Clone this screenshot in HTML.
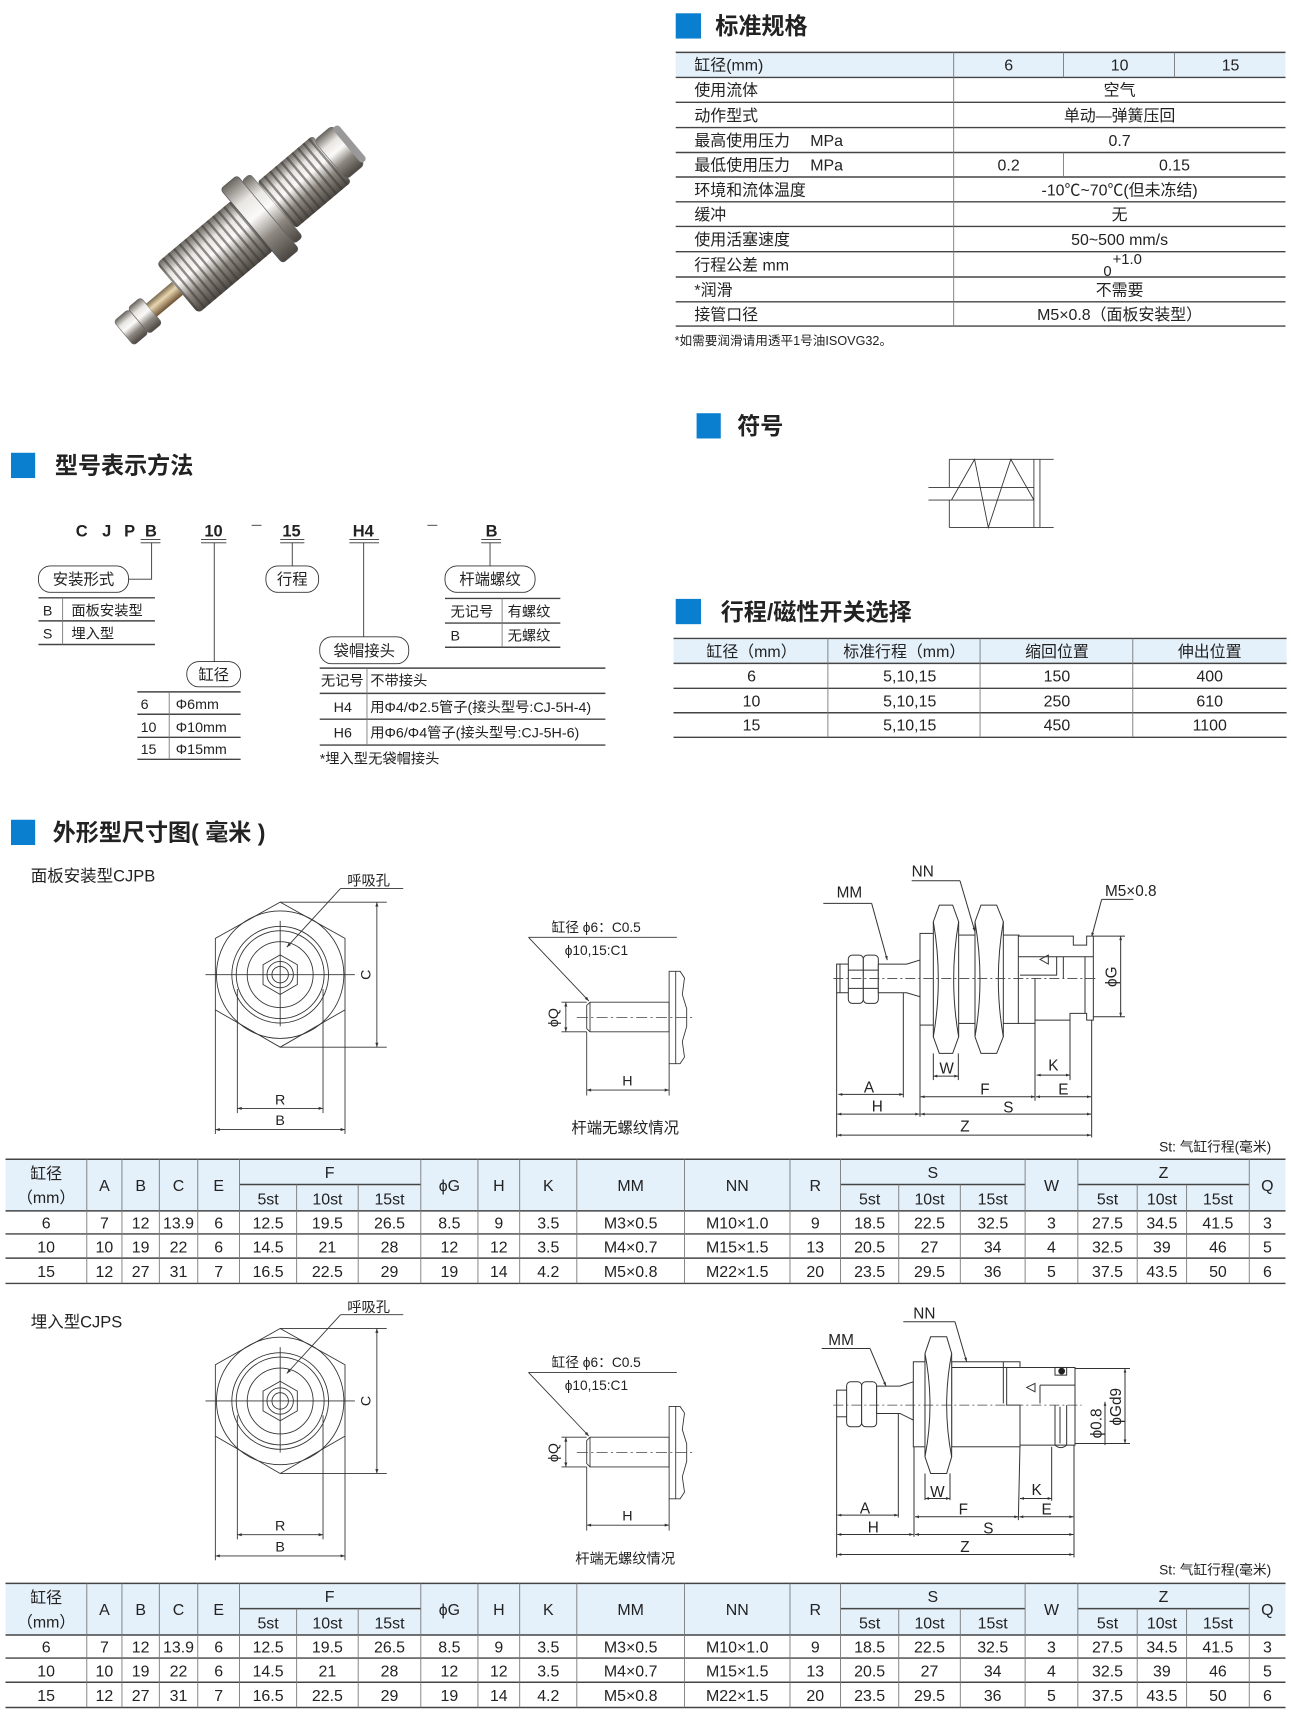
<!DOCTYPE html>
<html><head><meta charset="utf-8"><style>
html,body{margin:0;padding:0;background:#fff;}
svg{display:block}
text{font-family:"Liberation Sans","Noto Sans CJK SC",sans-serif;fill:#222}
.h{font-size:21px;font-weight:bold}
.t{font-size:14.5px}
.s{font-size:13px}
.d{font-size:14.5px;text-anchor:middle}
.m{text-anchor:middle}
.hl{stroke:#444;stroke-width:1.3}
.vl{stroke:#777;stroke-width:0.8}
.ln{stroke:#333;stroke-width:0.8;fill:none}
.zl{stroke:#333;stroke-width:3;fill:none}
.zf{stroke:#333;stroke-width:3;fill:#fff}
.zt{font-size:46px}
.cl{stroke:#444;stroke-width:0.7;stroke-dasharray:10 3 2 3;fill:none}
.zcl{stroke:#444;stroke-width:2.5;stroke-dasharray:30 9 6 9;fill:none}
</style></head><body>
<svg width="1291" height="1723" viewBox="0 0 1175 1568" xmlns="http://www.w3.org/2000/svg">
<defs>
<marker id="a" viewBox="0 0 10 10" refX="10" refY="5" markerWidth="7" markerHeight="5" orient="auto-start-reverse" markerUnits="strokeWidth"><path d="M0,1.5 L10,5 L0,8.5 z" fill="#333"/></marker>
<marker id="b" viewBox="0 0 10 10" refX="10" refY="5" markerWidth="6" markerHeight="4" orient="auto-start-reverse" markerUnits="strokeWidth"><path d="M0,1.5 L10,5 L0,8.5 z" fill="#333"/></marker>
<linearGradient id="mg" x1="0" y1="0" x2="0" y2="1">
<stop offset="0" stop-color="#6a655f"/><stop offset="0.25" stop-color="#e8e6e2"/><stop offset="0.45" stop-color="#fbfaf8"/><stop offset="0.7" stop-color="#8d8780"/><stop offset="1" stop-color="#4a4540"/></linearGradient>
<linearGradient id="bg" x1="0" y1="0" x2="0" y2="1">
<stop offset="0" stop-color="#7a6a50"/><stop offset="0.4" stop-color="#e9d6b0"/><stop offset="1" stop-color="#6a5030"/></linearGradient>
<pattern id="th" width="6" height="10" patternUnits="userSpaceOnUse"><rect width="6" height="10" fill="none"/><rect x="0" width="2" height="10" fill="#3a3632" opacity="0.55"/></pattern>
</defs>

<!-- PHOTO -->
<g transform="translate(212,220) rotate(-40) scale(1.1)">
<rect x="-118" y="-13" width="16" height="26" rx="3" fill="url(#mg)" stroke="#666" stroke-width="0.5"/>
<rect x="-102" y="-14" width="14" height="28" rx="3" fill="url(#mg)" stroke="#666" stroke-width="0.5"/>
<rect x="-88" y="-7" width="30" height="14" fill="url(#bg)"/>
<rect x="-60" y="-27" width="82" height="54" rx="4" fill="url(#mg)"/>
<rect x="-60" y="-27" width="82" height="54" rx="4" fill="url(#th)"/>
<rect x="20" y="-40" width="18" height="80" rx="3" fill="url(#mg)" stroke="#555" stroke-width="0.6"/>
<rect x="38" y="-34" width="9" height="68" rx="3" fill="url(#mg)" stroke="#666" stroke-width="0.5"/>
<rect x="47" y="-25" width="60" height="50" rx="3" fill="url(#mg)"/>
<rect x="47" y="-25" width="60" height="50" rx="3" fill="url(#th)"/>
<rect x="105" y="-21" width="20" height="42" rx="4" fill="url(#mg)" stroke="#666" stroke-width="0.5"/>
<rect x="123" y="-19" width="6" height="38" rx="3" fill="#999"/>
</g>

<!-- 标准规格 -->
<rect x="615" y="12" width="23" height="23" fill="#0a7fd0"/>
<text x="651" y="31" class="h">标准规格</text>
<rect x="615" y="48" width="555" height="22" fill="#e4f0fa"/>
<g>
<line x1="615" y1="47.6" x2="1170" y2="47.6" class="hl"/>
<line x1="615" y1="70.4" x2="1170" y2="70.4" class="hl"/>
<line x1="615" y1="93" x2="1170" y2="93" class="hl"/>
<line x1="615" y1="116" x2="1170" y2="116" class="hl"/>
<line x1="615" y1="138.7" x2="1170" y2="138.7" class="hl"/>
<line x1="615" y1="161" x2="1170" y2="161" class="hl"/>
<line x1="615" y1="183.6" x2="1170" y2="183.6" class="hl"/>
<line x1="615" y1="206" x2="1170" y2="206" class="hl"/>
<line x1="615" y1="229" x2="1170" y2="229" class="hl"/>
<line x1="615" y1="252" x2="1170" y2="252" class="hl"/>
<line x1="615" y1="274.6" x2="1170" y2="274.6" class="hl"/>
<line x1="615" y1="296.7" x2="1170" y2="296.7" class="hl"/>
<line x1="868" y1="47.6" x2="868" y2="296.7" class="vl"/>
<line x1="968" y1="47.6" x2="968" y2="70.4" class="vl"/>
<line x1="1069" y1="47.6" x2="1069" y2="70.4" class="vl"/>
<line x1="968" y1="138.7" x2="968" y2="161" class="vl"/>
</g>
<g class="t">
<text x="632" y="64">缸径(mm)</text>
<text x="632" y="87">使用流体</text>
<text x="632" y="110">动作型式</text>
<text x="632" y="133">最高使用压力　 MPa</text>
<text x="632" y="155">最低使用压力　 MPa</text>
<text x="632" y="178">环境和流体温度</text>
<text x="632" y="200">缓冲</text>
<text x="632" y="223">使用活塞速度</text>
<text x="632" y="246">行程公差 mm</text>
<text x="632" y="269">*润滑</text>
<text x="632" y="291">接管口径</text>
</g>
<g class="t" text-anchor="middle">
<text x="918" y="64">6</text><text x="1019" y="64">10</text><text x="1120" y="64">15</text>
<text x="1019" y="87">空气</text>
<text x="1019" y="110">单动—弹簧压回</text>
<text x="1019" y="133">0.7</text>
<text x="918" y="155">0.2</text><text x="1069" y="155">0.15</text>
<text x="1019" y="178">-10℃~70℃(但未冻结)</text>
<text x="1019" y="200">无</text>
<text x="1019" y="223">50~500 mm/s</text>
<text x="1026" y="240" style="font-size:13.5px">+1.0</text>
<text x="1008" y="251" style="font-size:13.5px">0</text>
<text x="1019" y="269">不需要</text>
<text x="1019" y="291">M5×0.8（面板安装型）</text>
</g>
<text x="614" y="314" style="font-size:11.5px">*如需要润滑请用透平1号油ISOVG32。</text>

<!-- 符号 -->
<rect x="634" y="376" width="22" height="23" fill="#0a7fd0"/>
<text x="671" y="395" class="h">符号</text>
<g class="ln" stroke-width="1">
<line x1="864" y1="418" x2="959" y2="418"/>
<line x1="864" y1="480" x2="959" y2="480"/>
<line x1="864" y1="418" x2="864" y2="443.5"/>
<line x1="864" y1="455" x2="864" y2="480"/>
<line x1="845" y1="443.5" x2="941" y2="443.5"/>
<line x1="845" y1="455" x2="941" y2="455"/>
<line x1="941" y1="418" x2="941" y2="480"/>
<line x1="946.5" y1="418" x2="946.5" y2="480"/>
<polyline points="866,455 887,418 899.5,480 920,418 941,455"/>
</g>

<!-- 行程/磁性开关选择 -->
<rect x="615" y="545" width="23" height="23" fill="#0a7fd0"/>
<text x="656" y="564" class="h">行程/磁性开关选择</text>
<rect x="613" y="581" width="558" height="23" fill="#e4f0fa"/>
<line x1="613" y1="581" x2="1171" y2="581" class="hl"/>
<line x1="613" y1="603.7" x2="1171" y2="603.7" class="hl"/>
<line x1="613" y1="626.4" x2="1171" y2="626.4" class="hl"/>
<line x1="613" y1="648.6" x2="1171" y2="648.6" class="hl"/>
<line x1="613" y1="671" x2="1171" y2="671" class="hl"/>
<line x1="753.5" y1="581" x2="753.5" y2="671" class="vl"/>
<line x1="892" y1="581" x2="892" y2="671" class="vl"/>
<line x1="1031" y1="581" x2="1031" y2="671" class="vl"/>
<g class="t" text-anchor="middle">
<text x="684" y="598">缸径（mm）</text><text x="823" y="598">标准行程（mm）</text><text x="962" y="598">缩回位置</text><text x="1101" y="598">伸出位置</text>
<text x="684" y="620">6</text><text x="828" y="620">5,10,15</text><text x="962" y="620">150</text><text x="1101" y="620">400</text>
<text x="684" y="643">10</text><text x="828" y="643">5,10,15</text><text x="962" y="643">250</text><text x="1101" y="643">610</text>
<text x="684" y="665">15</text><text x="828" y="665">5,10,15</text><text x="962" y="665">450</text><text x="1101" y="665">1100</text>
</g>

<!-- 型号表示方法 -->
<rect x="10" y="412" width="22" height="23" fill="#0a7fd0"/>
<text x="50" y="431" class="h">型号表示方法</text>
<g style="font-size:15px;font-weight:bold">
<text x="69" y="488">C</text><text x="93" y="488">J</text><text x="113" y="488">P</text><text x="132" y="488">B</text>
<text x="186" y="488">10</text><text x="257" y="488">15</text><text x="321" y="488">H4</text><text x="442" y="488">B</text>
</g>
<g class="ln">
<line x1="229" y1="478" x2="238" y2="478"/><line x1="389" y1="478" x2="398" y2="478"/>
<line x1="128" y1="491" x2="146" y2="491"/><line x1="128" y1="494" x2="146" y2="494"/>
<line x1="183" y1="491" x2="206" y2="491"/><line x1="183" y1="494" x2="206" y2="494"/>
<line x1="255" y1="491" x2="277" y2="491"/><line x1="255" y1="494" x2="277" y2="494"/>
<line x1="318" y1="491" x2="345" y2="491"/><line x1="318" y1="494" x2="345" y2="494"/>
<line x1="438" y1="491" x2="456" y2="491"/><line x1="438" y1="494" x2="456" y2="494"/>
<polyline points="138,494 138,527 117,527"/>
<line x1="195" y1="494" x2="195" y2="602"/>
<line x1="266" y1="494" x2="266" y2="515"/>
<line x1="331" y1="494" x2="331" y2="579.5"/>
<line x1="446" y1="494" x2="446" y2="515"/>
<rect x="35" y="515" width="82" height="24" rx="11"/>
<rect x="170" y="602" width="49" height="23" rx="11"/>
<rect x="242" y="515" width="48" height="24" rx="11"/>
<rect x="291" y="579.5" width="81" height="24.5" rx="11"/>
<rect x="405" y="515" width="82" height="24" rx="11"/>
</g>
<g class="hl" stroke-width="1.1">
<line x1="35" y1="544" x2="141" y2="544"/><line x1="35" y1="565" x2="141" y2="565"/><line x1="35" y1="586.5" x2="141" y2="586.5"/>
<line x1="125" y1="629.6" x2="219" y2="629.6"/><line x1="125" y1="650" x2="219" y2="650"/><line x1="125" y1="671" x2="219" y2="671"/><line x1="125" y1="691" x2="219" y2="691"/>
<line x1="291" y1="608" x2="551" y2="608"/><line x1="291" y1="631" x2="551" y2="631"/><line x1="291" y1="654.5" x2="551" y2="654.5"/><line x1="291" y1="678" x2="551" y2="678"/>
<line x1="405" y1="544.6" x2="510" y2="544.6"/><line x1="405" y1="567" x2="510" y2="567"/><line x1="405" y1="589" x2="510" y2="589"/>
</g>
<g class="vl">
<line x1="57" y1="544" x2="57" y2="586.5"/><line x1="154" y1="629.6" x2="154" y2="691"/>
<line x1="334" y1="608" x2="334" y2="678"/><line x1="457" y1="544.6" x2="457" y2="589"/>
</g>
<g style="font-size:14px">
<text x="76" y="532" class="m">安装形式</text>
<text x="194.5" y="619" class="m">缸径</text>
<text x="266" y="532" class="m">行程</text>
<text x="331.5" y="597" class="m">袋帽接头</text>
<text x="446" y="532" class="m">杆端螺纹</text>
</g>
<g class="s">
<text x="39" y="560">B</text><text x="65" y="560">面板安装型</text>
<text x="39" y="581">S</text><text x="65" y="581">埋入型</text>
<text x="128" y="645">6</text><text x="160" y="645">Φ6mm</text>
<text x="128" y="666">10</text><text x="160" y="666">Φ10mm</text>
<text x="128" y="686">15</text><text x="160" y="686">Φ15mm</text>
<text x="292" y="624">无记号</text><text x="337" y="624">不带接头</text>
<text x="312" y="648" class="m">H4</text><text x="337" y="648">用Φ4/Φ2.5管子(接头型号:CJ-5H-4)</text>
<text x="312" y="671" class="m">H6</text><text x="337" y="671">用Φ6/Φ4管子(接头型号:CJ-5H-6)</text>
<text x="291" y="695">*埋入型无袋帽接头</text>
<text x="410" y="561">无记号</text><text x="462" y="561">有螺纹</text>
<text x="410" y="583">B</text><text x="462" y="583">无螺纹</text>
</g>

<!-- 外形型尺寸图 -->
<rect x="10" y="746" width="22" height="23" fill="#0a7fd0"/>
<text x="48" y="765" class="h">外形型尺寸图( 毫米 )</text>
<text x="28" y="802" style="font-size:15px">面板安装型CJPB</text>
<text x="28" y="1208" style="font-size:15px">埋入型CJPS</text>

<!-- front view 1 and 2 -->
<g id="fv">
<polygon points="255,821 314,854 314,919 255,953 196,919 196,854" class="ln"/>
<circle cx="255" cy="887" r="58" class="ln"/>
<circle cx="255" cy="887" r="44" class="ln"/>
<circle cx="255" cy="887" r="40" class="ln"/>
<circle cx="255" cy="887" r="30" class="ln"/>
<polygon points="255,869 270.6,878 270.6,896 255,905 239.4,896 239.4,878" class="ln"/>
<circle cx="255" cy="887" r="12" class="ln"/>
<circle cx="255" cy="887" r="7.5" class="ln"/>
<line x1="187" y1="887" x2="323" y2="887" class="ln"/>
<line x1="255" y1="838" x2="255" y2="934" class="ln"/>
<text x="316" y="806" class="s">呼吸孔</text>
<line x1="310" y1="808.5" x2="367" y2="808.5" class="ln"/>
<line x1="310" y1="808.5" x2="261" y2="862" class="ln" marker-end="url(#a)"/>
<line x1="255" y1="821" x2="352" y2="821" class="ln"/>
<line x1="255" y1="953" x2="352" y2="953" class="ln"/>
<line x1="343" y1="821" x2="343" y2="953" class="ln" marker-start="url(#a)" marker-end="url(#a)"/>
<text transform="translate(337,887) rotate(-90)" class="s m">C</text>
<line x1="216" y1="900" x2="216" y2="1013" class="ln"/>
<line x1="294" y1="900" x2="294" y2="1013" class="ln"/>
<line x1="216" y1="1008.7" x2="294" y2="1008.7" class="ln" marker-start="url(#a)" marker-end="url(#a)"/>
<text x="255" y="1005" class="s m">R</text>
<line x1="196" y1="919" x2="196" y2="1032" class="ln"/>
<line x1="314" y1="919" x2="314" y2="1032" class="ln"/>
<line x1="196" y1="1028" x2="314" y2="1028" class="ln" marker-start="url(#a)" marker-end="url(#a)"/>
<text x="255" y="1024" class="s m">B</text>
</g>
<use href="#fv" transform="translate(0,388)"/>

<!-- rod end 1 and 2 -->
<g id="re">
<text x="502" y="848" style="font-size:12.5px">缸径 ϕ6：C0.5</text>
<line x1="481" y1="853" x2="616" y2="853" class="ln"/>
<text x="514" y="869" style="font-size:12.5px">ϕ10,15:C1</text>
<line x1="481" y1="853" x2="536" y2="911" class="ln" marker-end="url(#a)"/>
<path d="M537,912 L609,912 L609,939 L537,939 L534,936 L534,915 Z" class="ln"/>
<line x1="537" y1="912" x2="537" y2="939" class="ln"/>
<path d="M609,884 L619,884 L623,890 L621,905 L625,918 L625,934 L621,948 L623,962 L619,968 L609,968 Z" class="ln"/>
<line x1="615" y1="884" x2="615" y2="968" class="ln" stroke-width="0.5"/>
<line x1="525" y1="926" x2="632" y2="926" class="cl"/>
<line x1="511" y1="912" x2="534" y2="912" class="ln"/>
<line x1="511" y1="939" x2="534" y2="939" class="ln"/>
<line x1="515" y1="912" x2="515" y2="939" class="ln" marker-start="url(#a)" marker-end="url(#a)"/>
<text transform="translate(508,926) rotate(-90)" class="s m">ϕQ</text>
<line x1="534" y1="939" x2="534" y2="997" class="ln"/>
<line x1="609" y1="968" x2="609" y2="997" class="ln"/>
<line x1="534" y1="992" x2="609" y2="992" class="ln" marker-start="url(#a)" marker-end="url(#a)"/>
<text x="571" y="988" class="s m">H</text>
</g>
<text x="569" y="1031" class="m" style="font-size:14px">杆端无螺纹情况</text>
<use href="#re" transform="translate(0,396)"/>
<text x="569" y="1423" class="m" style="font-size:13px">杆端无螺纹情况</text>

<!-- side view 1 -->
<g transform="translate(728.1,782.7) scale(0.3034)">
<line x1="70" y1="130" x2="215" y2="130" class="zl"/>
<line x1="215" y1="130" x2="262" y2="300" class="zl" marker-end="url(#b)"/>
<text x="110" y="112" class="zt">MM</text>
<line x1="335" y1="62" x2="480" y2="62" class="zl"/>
<line x1="480" y1="62" x2="525" y2="215" class="zl" marker-end="url(#b)"/>
<text x="335" y="50" class="zt">NN</text>
<line x1="905" y1="118" x2="1000" y2="118" class="zl"/>
<line x1="905" y1="118" x2="875" y2="230" class="zl" marker-end="url(#b)"/>
<text x="915" y="108" class="zt">M5×0.8</text>
<rect x="110" y="312" width="40" height="86" class="zf"/>
<line x1="120" y1="312" x2="120" y2="398" class="zl"/>
<rect x="145" y="285" width="45" height="145" rx="12" class="zf"/>
<rect x="190" y="285" width="45" height="145" rx="12" class="zf"/>
<line x1="145" y1="330" x2="235" y2="330" class="zl"/><line x1="145" y1="385" x2="235" y2="385" class="zl"/>
<path d="M235,312 L320,312 L360,300 L360,410 L320,398 L235,398 Z" class="zf"/>
<rect x="360" y="220" width="48" height="275" class="zf"/>
<rect x="475" y="225" width="52" height="265" class="zf"/>
<rect x="605" y="225" width="52" height="265" class="zf"/>
<path d="M400,185 L418,135 L458,135 L476,185 L476,530 L458,580 L418,580 L400,530 Z" class="zf"/>
<path d="M400,185 Q430,358 400,530 M476,185 Q446,358 476,530" class="zl"/>
<path d="M525,185 L543,135 L590,135 L610,185 L610,530 L590,580 L543,580 L525,530 Z" class="zf"/>
<path d="M525,185 Q555,358 525,530 M610,185 Q580,358 610,530" class="zl"/>
<path d="M655,228 L820,228 L820,255 L860,255 L860,228 L880,228 L880,480 L860,480 L860,460 L810,460 L810,480 L705,480 L705,490 L655,490 Z" class="zf"/>
<path d="M655,290 L770,290 L770,345 L660,345" class="zl"/>
<line x1="770" y1="290" x2="880" y2="290" class="zl"/>
<line x1="790" y1="290" x2="790" y2="355" class="zl"/>
<line x1="855" y1="290" x2="855" y2="460" class="zl"/>
<line x1="705" y1="355" x2="705" y2="490" class="zl"/>
<polygon points="720,298 745,285 745,312" class="zl"/>
<line x1="100" y1="355" x2="890" y2="355" class="zcl"/>
<line x1="880" y1="228" x2="975" y2="228" class="zl"/><line x1="880" y1="470" x2="975" y2="470" class="zl"/>
<line x1="962" y1="228" x2="962" y2="470" class="zl" marker-start="url(#b)" marker-end="url(#b)"/>
<text transform="translate(950,350) rotate(-90)" class="zt" text-anchor="middle">ϕG</text>
<line x1="110" y1="398" x2="110" y2="832" class="zl"/>
<line x1="310" y1="398" x2="310" y2="712" class="zl"/>
<line x1="360" y1="495" x2="360" y2="770" class="zl"/>
<line x1="400" y1="580" x2="400" y2="660" class="zl"/><line x1="475" y1="580" x2="475" y2="660" class="zl"/>
<line x1="705" y1="490" x2="705" y2="722" class="zl"/>
<line x1="810" y1="480" x2="810" y2="660" class="zl"/>
<line x1="875" y1="480" x2="875" y2="832" class="zl"/>
<line x1="400" y1="648" x2="475" y2="648" class="zl" marker-start="url(#b)" marker-end="url(#b)"/><text x="440" y="640" class="zt" text-anchor="middle">W</text>
<line x1="710" y1="645" x2="810" y2="645" class="zl" marker-start="url(#b)" marker-end="url(#b)"/><text x="760" y="632" class="zt" text-anchor="middle">K</text>
<line x1="115" y1="703" x2="310" y2="703" class="zl" marker-start="url(#b)" marker-end="url(#b)"/><text x="207" y="698" class="zt" text-anchor="middle">A</text>
<line x1="362" y1="710" x2="705" y2="710" class="zl" marker-start="url(#b)" marker-end="url(#b)"/><text x="555" y="703" class="zt" text-anchor="middle">F</text>
<line x1="708" y1="710" x2="873" y2="710" class="zl" marker-start="url(#b)" marker-end="url(#b)"/><text x="790" y="703" class="zt" text-anchor="middle">E</text>
<line x1="112" y1="762" x2="358" y2="762" class="zl" marker-start="url(#b)" marker-end="url(#b)"/><text x="232" y="755" class="zt" text-anchor="middle">H</text>
<line x1="362" y1="762" x2="873" y2="762" class="zl" marker-start="url(#b)" marker-end="url(#b)"/><text x="625" y="758" class="zt" text-anchor="middle">S</text>
<line x1="112" y1="825" x2="873" y2="825" class="zl" marker-start="url(#b)" marker-end="url(#b)"/><text x="495" y="815" class="zt" text-anchor="middle">Z</text>
</g>

<!-- side view 2 -->
<g transform="translate(728.1,1165) scale(0.3034)">
<line x1="65" y1="205" x2="210" y2="205" class="zl"/>
<line x1="210" y1="205" x2="258" y2="318" class="zl" marker-end="url(#b)"/>
<text x="85" y="195" class="zt">MM</text>
<line x1="310" y1="125" x2="465" y2="125" class="zl"/>
<line x1="465" y1="125" x2="500" y2="245" class="zl" marker-end="url(#b)"/>
<text x="340" y="115" class="zt">NN</text>
<rect x="110" y="330" width="35" height="80" class="zf"/>
<rect x="140" y="305" width="45" height="135" rx="12" class="zf"/>
<rect x="185" y="305" width="45" height="135" rx="12" class="zf"/>
<path d="M230,318 L300,318 L340,305 L340,420 L300,400 L230,400 Z" class="zf"/>
<rect x="340" y="245" width="50" height="255" class="zf"/>
<rect x="455" y="245" width="205" height="255" class="zf"/>
<line x1="610" y1="245" x2="610" y2="370" class="zl"/>
<line x1="455" y1="262" x2="660" y2="262" class="zl"/>
<path d="M375,220 L392,170 L440,170 L455,220 L455,530 L440,580 L392,580 L375,530 Z" class="zf"/>
<path d="M375,220 Q405,375 375,530 M455,220 Q425,375 455,530" class="zl"/>
<path d="M610,262 L825,262 L825,495 L660,495 L660,375 L620,375 L620,262" class="zf"/>
<rect x="765" y="262" width="35" height="23" class="zl"/>
<circle cx="785" cy="273" r="10" fill="#222"/>
<path d="M720,315 L825,315 M720,315 L720,370" class="zl"/>
<path d="M765,375 L765,495 Q782,510 800,495 L800,375" class="zl"/>
<line x1="780" y1="380" x2="780" y2="490" class="zl"/>
<polygon points="680,322 705,310 705,335" class="zl"/>
<line x1="100" y1="375" x2="845" y2="375" class="zcl"/>
<line x1="825" y1="265" x2="990" y2="265" class="zl"/><line x1="825" y1="490" x2="990" y2="490" class="zl"/>
<line x1="975" y1="265" x2="975" y2="490" class="zl" marker-start="url(#b)" marker-end="url(#b)"/>
<text transform="translate(963,380) rotate(-90)" class="zt" text-anchor="middle">ϕGd9</text>
<line x1="915" y1="365" x2="915" y2="495" class="zl" marker-start="url(#b)"/>
<text transform="translate(905,430) rotate(-90)" class="zt" text-anchor="middle">ϕ0.8</text>
<line x1="110" y1="410" x2="110" y2="832" class="zl"/>
<line x1="295" y1="400" x2="295" y2="712" class="zl"/>
<line x1="342" y1="500" x2="342" y2="770" class="zl"/>
<line x1="375" y1="580" x2="375" y2="660" class="zl"/><line x1="450" y1="580" x2="450" y2="660" class="zl"/>
<line x1="660" y1="495" x2="655" y2="720" class="zl"/>
<line x1="755" y1="500" x2="755" y2="662" class="zl"/>
<line x1="822" y1="495" x2="822" y2="832" class="zl"/>
<line x1="375" y1="655" x2="450" y2="655" class="zl" marker-start="url(#b)" marker-end="url(#b)"/><text x="412" y="650" class="zt" text-anchor="middle">W</text>
<line x1="660" y1="655" x2="755" y2="655" class="zl" marker-start="url(#b)" marker-end="url(#b)"/><text x="710" y="645" class="zt" text-anchor="middle">K</text>
<line x1="112" y1="705" x2="295" y2="705" class="zl" marker-start="url(#b)" marker-end="url(#b)"/><text x="195" y="700" class="zt" text-anchor="middle">A</text>
<line x1="345" y1="710" x2="655" y2="710" class="zl" marker-start="url(#b)" marker-end="url(#b)"/><text x="490" y="703" class="zt" text-anchor="middle">F</text>
<line x1="658" y1="710" x2="820" y2="710" class="zl" marker-start="url(#b)" marker-end="url(#b)"/><text x="740" y="703" class="zt" text-anchor="middle">E</text>
<line x1="112" y1="763" x2="340" y2="763" class="zl" marker-start="url(#b)" marker-end="url(#b)"/><text x="220" y="757" class="zt" text-anchor="middle">H</text>
<line x1="345" y1="763" x2="820" y2="763" class="zl" marker-start="url(#b)" marker-end="url(#b)"/><text x="565" y="760" class="zt" text-anchor="middle">S</text>
<line x1="112" y1="823" x2="820" y2="823" class="zl" marker-start="url(#b)" marker-end="url(#b)"/><text x="495" y="815" class="zt" text-anchor="middle">Z</text>
</g>

<text x="1055" y="1048" style="font-size:12.5px">St: 气缸行程(毫米)</text>
<text x="1055" y="1433" style="font-size:12.5px">St: 气缸行程(毫米)</text>

<!-- dimension tables -->
<g id="dt">
<rect x="5" y="1055" width="1165" height="47" fill="#e4f0fa"/>
<g class="hl">
<line x1="5" y1="1055" x2="1170" y2="1055"/>
<line x1="218" y1="1078" x2="383" y2="1078"/>
<line x1="765" y1="1078" x2="933" y2="1078"/>
<line x1="981" y1="1078" x2="1137" y2="1078"/>
<line x1="5" y1="1102" x2="1170" y2="1102"/>
<line x1="5" y1="1123" x2="1170" y2="1123"/>
<line x1="5" y1="1145" x2="1170" y2="1145"/>
<line x1="5" y1="1168" x2="1170" y2="1168"/>
</g>
<g class="vl">
<line x1="79" y1="1055" x2="79" y2="1168"/><line x1="111" y1="1055" x2="111" y2="1168"/><line x1="145" y1="1055" x2="145" y2="1168"/>
<line x1="180" y1="1055" x2="180" y2="1168"/><line x1="218" y1="1055" x2="218" y2="1168"/>
<line x1="270" y1="1078" x2="270" y2="1168"/><line x1="326" y1="1078" x2="326" y2="1168"/>
<line x1="383" y1="1055" x2="383" y2="1168"/><line x1="435" y1="1055" x2="435" y2="1168"/><line x1="473" y1="1055" x2="473" y2="1168"/>
<line x1="525" y1="1055" x2="525" y2="1168"/><line x1="623" y1="1055" x2="623" y2="1168"/><line x1="719" y1="1055" x2="719" y2="1168"/>
<line x1="765" y1="1055" x2="765" y2="1168"/>
<line x1="818" y1="1078" x2="818" y2="1168"/><line x1="874" y1="1078" x2="874" y2="1168"/>
<line x1="933" y1="1055" x2="933" y2="1168"/><line x1="981" y1="1055" x2="981" y2="1168"/>
<line x1="1035" y1="1078" x2="1035" y2="1168"/><line x1="1080" y1="1078" x2="1080" y2="1168"/>
<line x1="1137" y1="1055" x2="1137" y2="1168"/>
</g>
<g class="d">
<text x="42" y="1073">缸径</text><text x="42" y="1095">（mm）</text>
<text x="95" y="1084">A</text><text x="128" y="1084">B</text><text x="162.5" y="1084">C</text><text x="199" y="1084">E</text>
<text x="300" y="1072">F</text>
<text x="244" y="1096">5st</text><text x="298" y="1096">10st</text><text x="354.5" y="1096">15st</text>
<text x="409" y="1084">ϕG</text><text x="454" y="1084">H</text><text x="499" y="1084">K</text>
<text x="574" y="1084">MM</text><text x="671" y="1084">NN</text><text x="742" y="1084">R</text>
<text x="849" y="1072">S</text>
<text x="791.5" y="1096">5st</text><text x="846" y="1096">10st</text><text x="903.5" y="1096">15st</text>
<text x="957" y="1084">W</text>
<text x="1059" y="1072">Z</text>
<text x="1008" y="1096">5st</text><text x="1057.5" y="1096">10st</text><text x="1108.5" y="1096">15st</text>
<text x="1153.5" y="1084">Q</text>
</g>
<g class="d">
<text x="42" y="1118">6</text><text x="95" y="1118">7</text><text x="128" y="1118">12</text><text x="162.5" y="1118">13.9</text><text x="199" y="1118">6</text>
<text x="244" y="1118">12.5</text><text x="298" y="1118">19.5</text><text x="354.5" y="1118">26.5</text><text x="409" y="1118">8.5</text><text x="454" y="1118">9</text><text x="499" y="1118">3.5</text>
<text x="574" y="1118">M3×0.5</text><text x="671" y="1118">M10×1.0</text><text x="742" y="1118">9</text>
<text x="791.5" y="1118">18.5</text><text x="846" y="1118">22.5</text><text x="903.5" y="1118">32.5</text><text x="957" y="1118">3</text>
<text x="1008" y="1118">27.5</text><text x="1057.5" y="1118">34.5</text><text x="1108.5" y="1118">41.5</text><text x="1153.5" y="1118">3</text>

<text x="42" y="1140">10</text><text x="95" y="1140">10</text><text x="128" y="1140">19</text><text x="162.5" y="1140">22</text><text x="199" y="1140">6</text>
<text x="244" y="1140">14.5</text><text x="298" y="1140">21</text><text x="354.5" y="1140">28</text><text x="409" y="1140">12</text><text x="454" y="1140">12</text><text x="499" y="1140">3.5</text>
<text x="574" y="1140">M4×0.7</text><text x="671" y="1140">M15×1.5</text><text x="742" y="1140">13</text>
<text x="791.5" y="1140">20.5</text><text x="846" y="1140">27</text><text x="903.5" y="1140">34</text><text x="957" y="1140">4</text>
<text x="1008" y="1140">32.5</text><text x="1057.5" y="1140">39</text><text x="1108.5" y="1140">46</text><text x="1153.5" y="1140">5</text>

<text x="42" y="1162">15</text><text x="95" y="1162">12</text><text x="128" y="1162">27</text><text x="162.5" y="1162">31</text><text x="199" y="1162">7</text>
<text x="244" y="1162">16.5</text><text x="298" y="1162">22.5</text><text x="354.5" y="1162">29</text><text x="409" y="1162">19</text><text x="454" y="1162">14</text><text x="499" y="1162">4.2</text>
<text x="574" y="1162">M5×0.8</text><text x="671" y="1162">M22×1.5</text><text x="742" y="1162">20</text>
<text x="791.5" y="1162">23.5</text><text x="846" y="1162">29.5</text><text x="903.5" y="1162">36</text><text x="957" y="1162">5</text>
<text x="1008" y="1162">37.5</text><text x="1057.5" y="1162">43.5</text><text x="1108.5" y="1162">50</text><text x="1153.5" y="1162">6</text>
</g>
</g>
<use href="#dt" transform="translate(0,386)"/>
</svg>
</body></html>
